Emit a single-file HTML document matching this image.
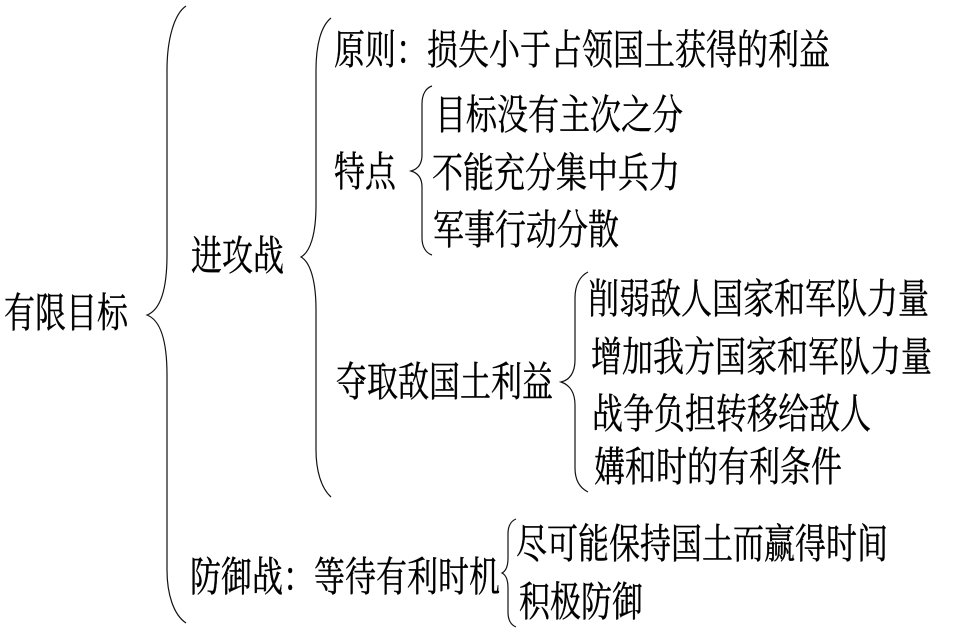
<!DOCTYPE html>
<html lang="zh-CN">
<head>
<meta charset="utf-8">
<style>
html,body{margin:0;padding:0;background:#fff;width:953px;height:630px;overflow:hidden}
svg{display:block}
text{font-family:"Noto Serif CJK SC","Liberation Serif",serif;font-size:31px;fill:#000;stroke:#000;stroke-width:.3px}
path{fill:none;stroke:#111;stroke-width:1.2}
</style>
</head>
<body>
<svg width="953" height="630" viewBox="0 0 953 630" xmlns="http://www.w3.org/2000/svg">
<path d="M186 6C174 14 167 40 167 70L167 255C167 290 160 310 147 315C160 320 167 340 167 375L167 570C167 595 174 615 186 623"/>
<path d="M331 18C321 26 316 45 316 70L316 205C316 235 310 252 301 257C310 262 316 280 316 310L316 450C316 470 321 488 331 497"/>
<path d="M432 86C426 88 422 94 422 104L422 155C422 164 418 169 411 171C418 173 422 178 422 187L422 238C422 247 426 253 432 255"/>
<path d="M588 272C580 276 575 285 575 298L575 360C575 372 570 380 561 382C570 385 575 393 575 405L575 468C575 480 580 488 588 492"/>
<path d="M516 519C511 521 508 526 508 534L508 558C508 566 506 571 502 573C506 575 508 580 508 588L508 612C508 620 511 625 516 627"/>
<text transform="translate(4,327) scale(1,1.32)">有限目标</text>
<text transform="translate(191,270) scale(1,1.32)">进攻战</text>
<text transform="translate(334,64) scale(1,1.32)">原则：损失小于占领国土获得的利益</text>
<text transform="translate(435,129) scale(1,1.32)">目标没有主次之分</text>
<text transform="translate(334,186) scale(1,1.32)">特点</text>
<text transform="translate(432,187) scale(1,1.32)">不能充分集中兵力</text>
<text transform="translate(433,244) scale(1,1.32)">军事行动分散</text>
<text transform="translate(588,313) scale(1,1.32)">削弱敌人国家和军队力量</text>
<text transform="translate(591,371) scale(1,1.32)">增加我方国家和军队力量</text>
<text transform="translate(336,396) scale(1,1.32)">夺取敌国土利益</text>
<text transform="translate(592,428) scale(1,1.32)">战争负担转移给敌人</text>
<text transform="translate(594,481) scale(1,1.32)">媾和时的有利条件</text>
<text transform="translate(190,591) scale(1,1.32)">防御战：等待有利时机</text>
<text transform="translate(516,558) scale(1,1.32)">尽可能保持国土而赢得时间</text>
<text transform="translate(519,616) scale(1,1.32)">积极防御</text>
</svg>
</body>
</html>
